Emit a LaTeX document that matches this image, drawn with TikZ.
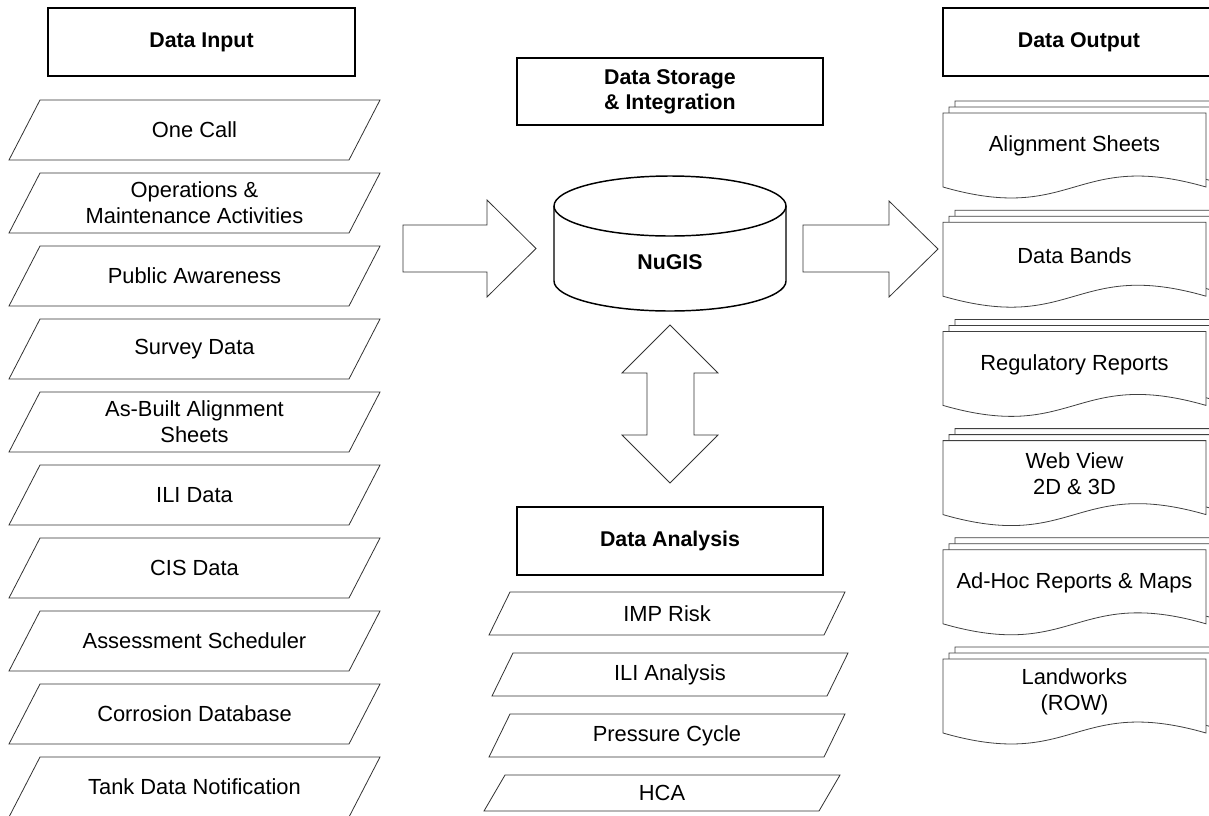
\documentclass[tikz,border=0pt]{standalone}
\usepackage{fontspec}
\setmainfont{Liberation Sans}
\begin{document}
\begin{tikzpicture}[x=0.75pt,y=-0.75pt,
  txt/.style={font=\fontsize{16.4}{19.5}\selectfont, align=center, inner sep=0pt},
  hdrtext/.style={txt, font=\fontsize{16}{19}\selectfont\bfseries},
  hdr/.style={draw=black, line width=2pt, fill=white},
  slant/.style={draw=black!80, line width=0.6pt, fill=white, line join=miter},
  sheet/.style={draw=black!75, line width=0.6pt, fill=white},
  bigarrow/.style={draw=black!80, line width=0.6pt, fill=white, line join=miter},
  cyl/.style={draw=black, line width=1.1pt, fill=white}]

% canvas and clipping of shapes that run off the right edge
\useasboundingbox (0,0) rectangle (1209,815);
\clip (0,0) rectangle (1209,815);

% header box: name, x1, y1, x2, y2, text
\newcommand{\hdrbox}[6]{%
  \draw[hdr] (#2,#3) rectangle (#4,#5);
  \node[hdrtext] (#1) at ({(#2+#4)/2},{(#3+#5)/2}) {#6};}

% slanted data box: name, x bottom-left, x bottom-right, y top, y bottom, skew, text
\newcommand{\slantbox}[7]{%
  \draw[slant] (#2,#5) -- (#3,#5) -- ({#3+#6},#4) -- ({#2+#6},#4) -- cycle;
  \node[txt] (#1) at ({(#2+#3+#6)/2},{(#4+#5)/2}) {#7};}

% one document sheet with a wavy bottom: x left, y top
\newcommand{\docsheet}[2]{%
  \draw[sheet] (#1,#2) -- ({#1+263},#2) -- ({#1+263},{#2+74})
    .. controls ({#1+131.5},{#2+74-38}) and ({#1+131.5},{#2+74+38}) .. (#1,{#2+74}) -- cycle;}

% stack of three sheets: name, y top of front sheet, text
\newcommand{\multidoc}[3]{%
  \docsheet{955}{#2-12}
  \docsheet{949}{#2-6}
  \docsheet{943}{#2}
  \node[txt] (#1) at (1074.5,{#2+33}) {#3};}

% ---- headers
\hdrbox{hin}{48}{8}{355}{76}{Data Input}
\hdrbox{hstore}{517}{58}{823}{125}{Data Storage\\ \& Integration}
\hdrbox{hana}{517}{507}{823}{575}{Data Analysis}
\draw[hdr] (943,8) rectangle (1215,76);
\node[hdrtext] (hout) at (1079,42) {Data Output};

% ---- data input column
\slantbox{in1}{9}{349}{100}{160}{31}{One Call}
\slantbox{in2}{9}{349}{173}{233}{31}{Operations \&\\ Maintenance Activities}
\slantbox{in3}{9}{349}{246}{306}{31}{Public Awareness}
\slantbox{in4}{9}{349}{319}{379}{31}{Survey Data}
\slantbox{in5}{9}{349}{392}{452}{31}{As-Built Alignment\\ Sheets}
\slantbox{in6}{9}{349}{465}{525}{31}{ILI Data}
\slantbox{in7}{9}{349}{538}{598}{31}{CIS Data}
\slantbox{in8}{9}{349}{611}{671}{31}{Assessment Scheduler}
\slantbox{in9}{9}{349}{684}{744}{31}{Corrosion Database}
\slantbox{in10}{9}{349}{757}{817}{31}{Tank Data Notification}

% ---- data analysis column
\slantbox{an1}{489}{824}{592}{635}{21}{IMP Risk}
\slantbox{an2}{492}{827}{653}{696}{21}{ILI Analysis}
\slantbox{an3}{489}{824}{714}{757}{21}{Pressure Cycle}
\slantbox{an4}{484}{819}{775}{811}{21}{HCA}

% ---- data output column
\multidoc{out1}{113}{Alignment Sheets}
\multidoc{out2}{222.2}{Data Bands}
\multidoc{out3}{331.4}{Regulatory Reports}
\multidoc{out4}{440.6}{Web View\\ 2D \& 3D}
\multidoc{out5}{549.8}{Ad-Hoc Reports \& Maps}
\multidoc{out6}{659}{Landworks\\ (ROW)}

% ---- NuGIS database cylinder
\draw[cyl] (554,206) -- (554,281)
  .. controls (554,297.57) and (605.93,311) .. (670,311)
  .. controls (734.07,311) and (786,297.57) .. (786,281) -- (786,206);
\draw[cyl] (670,206) ellipse [x radius=116, y radius=30];
\node[hdrtext] (db) at (670,262) {NuGIS};

% ---- block arrows
\draw[bigarrow] (403,225) -- (487,225) -- (487,200) -- (536,248.5)
  -- (487,297) -- (487,272) -- (403,272) -- cycle;
\draw[bigarrow] (803,225) -- (889,225) -- (889,201) -- (938,249)
  -- (889,297) -- (889,272) -- (803,272) -- cycle;
\draw[bigarrow] (670,325) -- (718,373) -- (694,373) -- (694,435) -- (718,435)
  -- (670,483) -- (622,435) -- (647,435) -- (647,373) -- (622,373) -- cycle;
\end{tikzpicture}
\end{document}
